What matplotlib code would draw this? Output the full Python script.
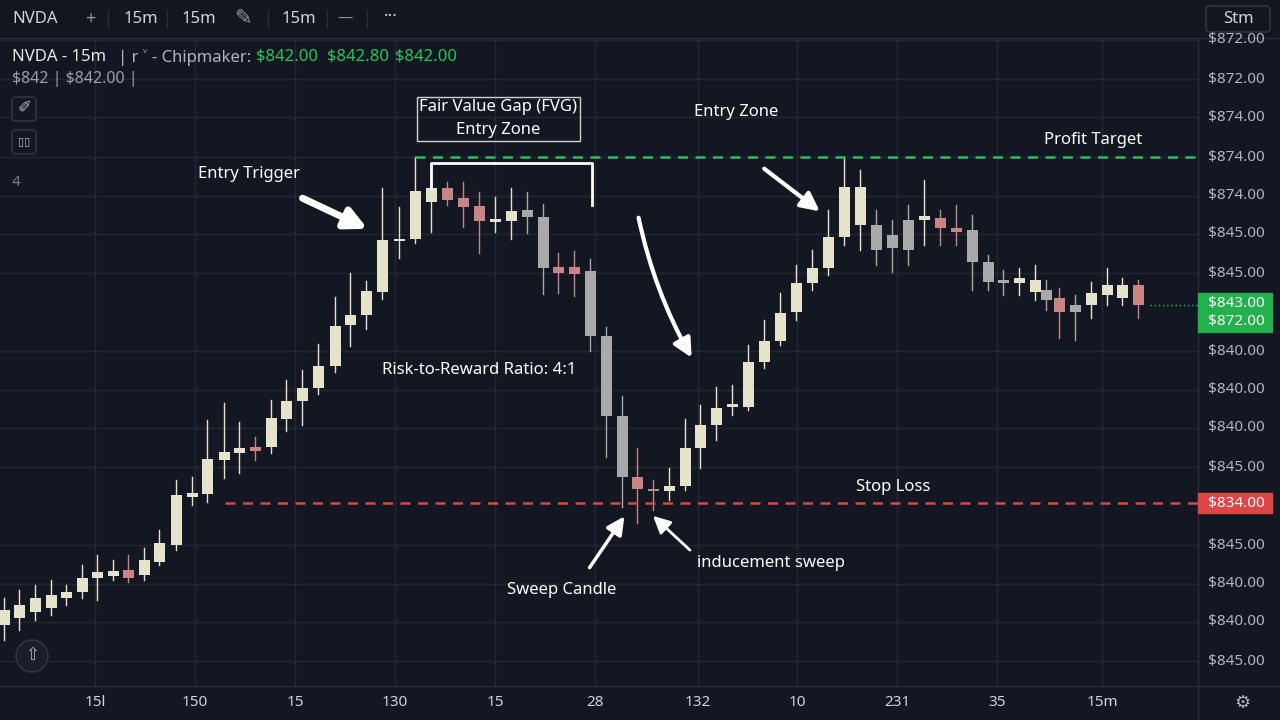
import matplotlib.pyplot as plt
from matplotlib.patches import Rectangle, FancyBboxPatch, FancyArrowPatch, Circle

plt.rcParams['font.family'] = ['Noto Sans', 'DejaVu Sans']

BG = '#131722'
GRID = '#232734'
LIGHT = '#e6e3cc'
RED = '#c98585'
GRAY = '#a9a9a9'

# candles, screen-space levels (y grows downward): x, body top, body bottom, wick top, wick bottom, colour
cx = [4, 19, 35, 51, 66, 82, 97, 113, 128, 144, 159, 176, 192, 207, 224, 239, 255, 271, 286, 302, 318,
      335, 350, 366, 382, 399, 415, 431, 447, 463, 479, 495, 511, 527, 543, 558, 574, 590, 606, 622,
      637, 653, 669, 685, 700, 716, 732, 748, 764, 780, 796, 812, 828, 844, 860, 876, 892, 908, 924,
      940, 956, 972, 988, 1003, 1019, 1035, 1046, 1059, 1075, 1091, 1107, 1122, 1138]
body_top = [610, 605, 598, 595, 592, 578, 572, 571, 570, 560, 543, 495, 493, 459, 452, 448, 447, 418,
            401, 388, 366, 326, 315, 291, 240, 239, 191, 188, 188, 198, 206, 219, 211, 210, 217, 267,
            267, 271, 336, 416, 477, 489, 486, 448, 425, 408, 404, 362, 341, 313, 283, 268, 237, 187,
            187, 225, 235, 220, 216, 218, 228, 230, 262, 280, 278, 280, 290, 298, 305, 293, 285, 285, 285]
body_bot = [625, 618, 612, 608, 598, 592, 578, 576, 578, 575, 562, 545, 497, 494, 460, 453, 451, 447,
            419, 401, 388, 366, 325, 315, 292, 241, 239, 202, 200, 207, 221, 222, 221, 217, 268, 273,
            274, 336, 416, 477, 489, 491, 491, 486, 448, 425, 407, 407, 362, 341, 312, 283, 268, 237,
            225, 250, 248, 250, 220, 228, 232, 262, 282, 283, 283, 292, 300, 312, 312, 305, 295, 298, 305]
wick_top = [598, 590, 585, 580, 585, 565, 555, 560, 555, 548, 530, 480, 477, 420, 403, 422, 437, 400,
            380, 370, 344, 297, 273, 281, 188, 207, 157, 165, 182, 182, 192, 197, 188, 192, 204, 253,
            251, 259, 327, 396, 448, 480, 468, 419, 405, 387, 385, 345, 320, 293, 265, 250, 210, 157,
            170, 210, 220, 205, 180, 210, 205, 215, 255, 270, 268, 265, 280, 288, 295, 282, 268, 278, 280]
wick_bot = [640, 630, 620, 615, 605, 598, 600, 580, 582, 580, 565, 550, 505, 502, 478, 473, 460, 453,
            431, 425, 394, 372, 346, 329, 299, 258, 243, 232, 205, 227, 253, 232, 239, 233, 294, 293,
            296, 351, 457, 507, 523, 510, 500, 490, 468, 440, 415, 410, 368, 345, 320, 290, 275, 245,
            250, 265, 272, 265, 245, 245, 245, 290, 290, 295, 295, 300, 310, 338, 340, 318, 305, 305, 318]
kind = ['L'] * 8 + ['R', 'L', 'L', 'L', 'L', 'L', 'L', 'L', 'R'] + ['L'] * 11 + \
       ['R', 'R', 'R', 'L', 'L', 'G', 'G', 'R', 'R', 'G', 'G', 'G', 'R', 'R', 'L', 'L', 'L', 'L'] + \
       ['L'] * 9 + ['G', 'G', 'G', 'L', 'R', 'R', 'G', 'G', 'G', 'L', 'L', 'G', 'R', 'G', 'L', 'L', 'L', 'R', 'G']
colours = {'L': LIGHT, 'R': RED, 'G': GRAY}

price_y = [40, 79, 117, 157, 196, 234, 273, 351, 390, 428, 467, 545, 584, 622, 661]
price_txt = ['$872.00', '$872.00', '$874.00', '$874.00', '$874.00', '$845.00', '$845.00', '$840.00',
             '$840.00', '$840.00', '$845.00', '$845.00', '$840.00', '$840.00', '$845.00']
time_x = [95, 195, 295, 395, 495, 595, 698, 797, 897, 997, 1102]
time_txt = ['15l', '150', '15', '130', '15', '28', '132', '10', '231', '35', '15m']

fig = plt.figure(figsize=(12.8, 7.2), dpi=100, facecolor=BG)
ax = fig.add_axes([0, 0, 1, 1])
ax.set_facecolor(BG)
ax.set_xlim(0, 1280)
ax.set_ylim(720, 0)
ax.axis('off')

# grid
for y in price_y:
    ax.plot([0, 1198], [y, y], color=GRID, lw=1, zorder=0)
for x in time_x:
    ax.plot([x, x], [38, 686], color=GRID, lw=1, zorder=0)

# toolbar and panels
ax.add_patch(Rectangle((0, 0), 1280, 38, color='#12161f', zorder=1))
ax.plot([0, 1280], [38, 38], color='#2a2e39', lw=1, zorder=2)
ax.plot([1198, 1198], [38, 720], color='#2a2e39', lw=1, zorder=2)
ax.plot([0, 1280], [686, 686], color='#2a2e39', lw=1, zorder=2)
for x, t in [(12, 'NVDA'), (124, '15m'), (182, '15m'), (282, '15m')]:
    ax.text(x, 19, t, color='#d1d4dc', fontsize=12, va='center', zorder=3)
ax.text(90, 19, '+', color='#9598a1', fontsize=13, va='center', ha='center', zorder=3)
ax.text(345, 19, '—', color='#9598a1', fontsize=11, va='center', ha='center', zorder=3)
ax.text(391, 17, '···', color='#d1d4dc', fontsize=12, va='center', ha='center', zorder=3)
ax.text(243, 19, '✎', color='#9598a1', fontsize=15, va='center', ha='center', zorder=3)
for x in [108, 167, 268, 327, 367]:
    ax.plot([x, x], [10, 28], color='#2a2e39', lw=1, zorder=3)
ax.add_patch(FancyBboxPatch((1206, 6), 64, 26, boxstyle='round,pad=0,rounding_size=4',
                            fc='#12161f', ec='#363a45', lw=1, zorder=3))
ax.text(1238, 19, 'Stm', color='#d1d4dc', fontsize=12, va='center', ha='center', zorder=4)

# legend header
ax.text(12, 57, 'NVDA - 15m', color='#e6e6e6', fontsize=12, va='center', zorder=3)
ax.text(118, 57, '| r ˅ - Chipmaker:', color='#b2b5be', fontsize=12, va='center', zorder=3)
for x, t in [(256, '$842.00'), (327, '$842.80'), (395, '$842.00')]:
    ax.text(x, 57, t, color='#22c55e', fontsize=12, va='center', zorder=3)
ax.text(12, 79, '\\$842 | \\$842.00 |', color='#9da0a8', fontsize=11.5, va='center', zorder=3)
for y in [97, 130]:
    ax.add_patch(FancyBboxPatch((12, y), 24, 24, boxstyle='round,pad=0,rounding_size=4',
                                fc=BG, ec='#363a45', lw=1, zorder=3))
ax.text(24, 109, '✐', color='#b2b5be', fontsize=12, ha='center', va='center', zorder=4)
ax.text(24, 142, '▯▯', color='#b2b5be', fontsize=8, ha='center', va='center', zorder=4)
ax.text(16, 183, '4', color='#7a7d86', fontsize=11, ha='center', va='center', zorder=3)
ax.add_patch(Circle((32, 656), 16, fc='#1a1e29', ec='#363a45', lw=1, zorder=3))
ax.text(32, 656, '⇧', color='#b2b5be', fontsize=12, ha='center', va='center', zorder=4)

# candles
for x, bt, bb, wt, wb, k in zip(cx, body_top, body_bot, wick_top, wick_bot, kind):
    c = colours[k]
    ax.plot([x, x], [wt, wb], color=c, lw=1, zorder=4)
    ax.add_patch(Rectangle((x - 5.5, bt), 11, max(bb - bt, 2), fc=c, ec='none', zorder=5))

# levels
ax.plot([415, 1198], [157, 157], color='#2ebd5a', lw=1.8, ls=(0, (4, 3)), zorder=6)
ax.plot([225, 1198], [503, 503], color='#e04545', lw=1.8, ls=(0, (4, 3)), zorder=6)
ax.plot([1150, 1198], [305, 305], color='#2ebd5a', lw=1, ls=(0, (1, 2)), zorder=6)

# right axis
for y, t in zip(price_y, price_txt):
    ax.text(1208, y, t, color='#b2b5be', fontsize=11, va='center', zorder=3)
for y, t, c in [(303, '$843.00', '#22b14c'), (322, '$872.00', '#22b14c'), (503, '$834.00', '#e04545')]:
    ax.add_patch(Rectangle((1198, y - 10), 74, 20, color=c, zorder=5))
    ax.text(1208, y, t, color='white', fontsize=11, va='center', zorder=6)
for x, t in zip(time_x, time_txt):
    ax.text(x, 703, t, color='#d1d4dc', fontsize=11, va='center', ha='center', zorder=3)
ax.text(1242, 703, '⚙', color='#b2b5be', fontsize=13, va='center', ha='center', zorder=3)

# annotations
ax.add_patch(Rectangle((417, 97), 163, 44, fc='none', ec='#cfcfcf', lw=1, zorder=6))
ax.text(498, 107, 'Fair Value Gap (FVG)', color='white', fontsize=12, ha='center', va='center', zorder=7)
ax.text(498, 130, 'Entry Zone', color='white', fontsize=12, ha='center', va='center', zorder=7)
ax.plot([431, 431, 592, 592], [188, 163, 163, 205], color='white', lw=2, zorder=7)
ax.text(736, 112, 'Entry Zone', color='white', fontsize=12, ha='center', va='center', zorder=7)
ax.text(1093, 140, 'Profit Target', color='white', fontsize=12, ha='center', va='center', zorder=7)
ax.text(249, 174, 'Entry Trigger', color='white', fontsize=12, ha='center', va='center', zorder=7)
ax.text(479, 370, 'Risk-to-Reward Ratio: 4:1', color='white', fontsize=12, ha='center', va='center', zorder=7)
ax.text(893, 487, 'Stop Loss', color='white', fontsize=12, ha='center', va='center', zorder=7)
ax.text(771, 563, 'inducement sweep', color='white', fontsize=12, ha='center', va='center', zorder=7)
ax.text(562, 590, 'Sweep Candle', color='white', fontsize=12, ha='center', va='center', zorder=7)

arrows = [((300, 197), (370, 230), 0, 5), ((762, 167), (822, 213), 0, 3),
          ((638, 215), (693, 360), 0.08, 3), ((588, 570), (626, 514), 0, 2.5), ((692, 552), (651, 514), 0, 2)]
for (a, b, rad, w) in arrows:
    ax.add_patch(FancyArrowPatch(a, b, connectionstyle=f'arc3,rad={rad}', arrowstyle='-|>',
                                 mutation_scale=22 + w * 2, color='white', lw=w, zorder=8))

fig.savefig('out.png', dpi=100, facecolor=BG)
